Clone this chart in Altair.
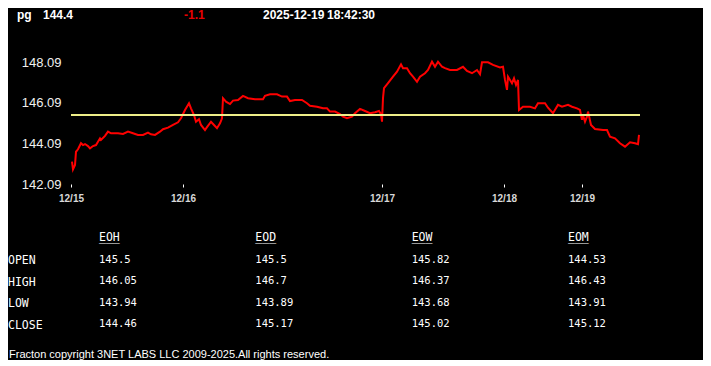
import altair as alt
import pandas as pd

# ---------------- data ----------------
bar_idx = [1, 2, 4, 5, 7, 10, 12, 14, 17, 19, 22, 25, 29, 30, 34, 37, 40, 47, 52, 57,
           62, 67, 72, 77, 80, 84, 89, 92, 97, 102, 107, 110, 114, 118, 120, 123, 125, 128, 130, 134,
           136, 140, 143, 146, 149, 151, 152, 155, 159, 162, 167, 172, 177, 184, 192, 194, 199, 206, 211, 216,
           219, 224, 231, 236, 239, 246, 252, 256, 259, 264, 269, 272, 276, 281, 284, 289, 294, 299, 304, 308,
           310, 311, 312, 313, 317, 322, 326, 330, 332, 336, 339, 342, 346, 349, 354, 357, 361, 364, 367, 371,
           374, 379, 386, 392, 396, 401, 406, 409, 411, 417, 422, 429, 432, 434, 436, 437, 441, 443, 445, 447,
           448, 452, 459, 464, 467, 474, 477, 482, 487, 491, 497, 501, 506, 509, 511, 512, 514, 516, 517, 520,
           524, 532, 536, 539, 544, 549, 554, 559, 564, 567, 568]
price = [143.19, 142.81, 143.03, 143.68, 143.80, 144.10, 144.01, 144.06, 143.96, 143.85, 143.96, 144.01, 144.34, 144.26, 144.46, 144.67, 144.59, 144.59, 144.56, 144.67,
         144.59, 144.51, 144.51, 144.62, 144.54, 144.51, 144.67, 144.79, 144.87, 145.00, 145.13, 145.33, 145.74, 146.07, 145.82, 145.49, 145.16, 145.28, 145.00, 144.75,
         144.89, 145.16, 145.00, 144.84, 145.08, 145.33, 146.32, 146.15, 146.03, 146.20, 146.23, 146.43, 146.32, 146.27, 146.27, 146.44, 146.51, 146.51, 146.40, 146.40,
         146.18, 146.23, 146.23, 146.07, 145.95, 145.90, 145.82, 145.82, 145.66, 145.66, 145.54, 145.41, 145.33, 145.41, 145.58, 145.79, 145.69, 145.58, 145.63, 145.69,
         145.53, 145.16, 146.32, 146.81, 147.06, 147.38, 147.63, 147.99, 147.80, 147.80, 147.55, 147.38, 147.13, 147.38, 147.55, 147.71, 148.12, 147.87, 148.12, 147.87,
         147.80, 147.71, 147.71, 147.87, 147.66, 147.55, 147.71, 147.50, 148.09, 148.09, 147.96, 147.83, 147.87, 147.22, 146.73, 147.38, 147.06, 147.30, 146.97, 147.22,
         145.74, 145.90, 145.90, 145.82, 146.07, 146.07, 145.85, 145.58, 145.99, 145.90, 145.99, 145.90, 145.82, 145.74, 145.25, 145.49, 145.16, 145.41, 145.66, 145.00,
         144.80, 144.75, 144.75, 144.42, 144.34, 144.10, 143.93, 144.15, 144.10, 144.05, 144.51]
ref_level = 145.49

day_ticks = [0, 112, 311, 433, 511]
day_labels = ["12/15", "12/16", "12/17", "12/18", "12/19"]
y_ticks = [142.09, 144.09, 146.09, 148.09]

header_symbol = "pg"
header_last = "144.4"
header_change = "-1.1"
header_date = "2025-12-19"
header_time = "18:42:30"

table_cols = ["EOH", "EOD", "EOW", "EOM"]
table_rows = ["OPEN", "HIGH", "LOW", "CLOSE"]
eoh = ["145.5", "146.05", "143.94", "144.46"]
eod = ["145.5", "146.7", "143.89", "145.17"]
eow = ["145.82", "146.37", "143.68", "145.02"]
eom = ["144.53", "146.43", "143.91", "145.12"]

footer_text = "Fracton copyright 3NET LABS LLC 2009-2025.All rights reserved."

# ---------------- build ----------------
W, H = 569, 142
series = pd.DataFrame({"bar": bar_idx, "price": price})

label_expr = "''"
for p, l in reversed(list(zip(day_ticks, day_labels))):
    label_expr = f"datum.value == {p} ? '{l}' : ({label_expr})"

sans = "'Liberation Sans', Arial, sans-serif"

x_enc = alt.X("bar:Q",
              scale=alt.Scale(domain=[0, W], nice=False, zero=False),
              axis=alt.Axis(values=day_ticks, labelExpr=label_expr, title=None,
                            grid=False, domain=False, ticks=True, tickSize=3,
                            tickColor="#ffffff", tickWidth=1,
                            labelColor="#d8d8d8", labelFontSize=10, labelFontWeight="bold",
                            labelFont=sans,
                            labelPadding=6, labelFlush=False, labelOverlap=False))
y_enc = alt.Y("price:Q",
              scale=alt.Scale(domain=[142.09, 149.09], nice=False, zero=False),
              axis=alt.Axis(values=y_ticks, format=".2f", title=None, grid=False,
                            domain=False, ticks=False, labelColor="#f0f0f0",
                            labelFontSize=13, labelFont=sans,
                            labelPadding=10))

line = alt.Chart(series).mark_line(color="#ff0000", strokeWidth=2).encode(x=x_enc, y=y_enc)

rule = alt.Chart(pd.DataFrame({"lvl": [ref_level]})).mark_rule(
    color="#eeee88", strokeWidth=2).encode(y=alt.Y("lvl:Q"))


def head(txt, x, color="#ffffff"):
    return alt.Chart(pd.DataFrame({"t": [txt]})).mark_text(
        align="left", baseline="alphabetic", font=sans, fontSize=12,
        fontWeight="bold", color=color).encode(
        text="t:N", x=alt.value(x), y=alt.value(-23))


headers = [head(header_symbol, -54), head(header_last, -28),
           head(header_change, 113, "#e80000"), head(header_date, 192),
           head(header_time, 256)]

footer = alt.Chart(pd.DataFrame({"t": [footer_text]})).mark_text(
    align="left", baseline="middle", font=sans,
    fontSize=11, color="#ffffff").encode(text="t:N", x=alt.value(-62), y=alt.value(312.5))

main = alt.layer(line, rule, *headers, footer)

# table
recs = []
for c, vals in zip(table_cols, [eoh, eod, eow, eom]):
    for r, v in zip(table_rows, vals):
        recs.append({"col": c, "row": r, "t": v})
tdf = pd.DataFrame(recs)
row_dom = ["HDR"] + table_rows

mono = "'DejaVu Sans Mono', 'Liberation Mono', monospace"
tx = alt.X("col:N", scale=alt.Scale(domain=table_cols, range=[28, 497], padding=0), axis=None)
ty = alt.Y("row:N", scale=alt.Scale(domain=row_dom, range=[196, 282], padding=0), axis=None)

cells = alt.Chart(tdf).mark_text(align="left", baseline="middle", font=mono,
                                 fontSize=10.5, color="#ffffff").encode(x=tx, y=ty, text="t:N")
hdr_df = pd.DataFrame({"col": table_cols, "row": ["HDR"] * 4, "t": table_cols,
                       "u": ["_" * len(c) for c in table_cols]})
hdr = alt.Chart(hdr_df).mark_text(align="left", baseline="middle", font=mono,
                                  fontSize=11.5, color="#ffffff").encode(x=tx, y=ty, text="t:N")
under = alt.Chart(hdr_df).mark_text(align="left", baseline="middle", font=mono,
                                    fontSize=11.5, color="#ffffff").encode(x=tx, y=ty, text="u:N")
rowlab = alt.Chart(pd.DataFrame({"row": table_rows, "t": table_rows})).mark_text(
    align="left", baseline="middle", font=mono, fontSize=11.5, dy=1.5,
    color="#ffffff").encode(x=alt.value(-63), y=ty, text="t:N")

table = alt.layer(cells, hdr, under, rowlab)

chart = alt.layer(main, table).resolve_scale(x="independent", y="independent").properties(
    width=W, height=H,
    autosize=alt.AutoSizeParams(type="none"),
    padding={"left": 63, "top": 34, "right": 63, "bottom": 176},
    background="#000000",
).configure_view(stroke=None)

chart.save("out.html", embed_options={"renderer": "svg", "actions": False})
